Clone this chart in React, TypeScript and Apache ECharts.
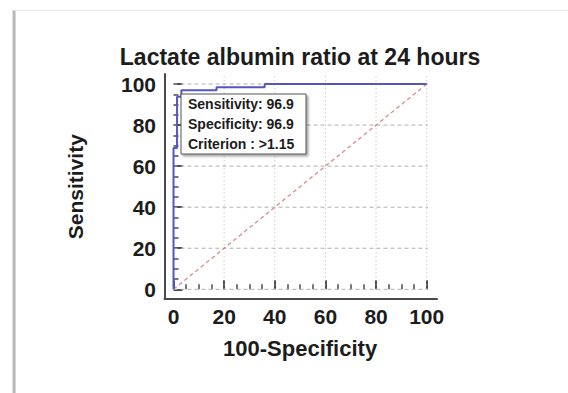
import React, { useEffect, useRef } from "react";
import * as echarts from "echarts";

const TITLE = "Lactate albumin ratio at 24 hours";
const X_NAME = "100-Specificity";
const Y_NAME = "Sensitivity";
const X_TICKS = [0, 20, 40, 60, 80, 100];
const Y_TICKS = [0, 20, 40, 60, 80, 100];
const X_EXT = 104;
const Y_EXT = 104.9;
const ROC_FPR = [0, 0, 1.4, 1.4, 3.1, 3.1, 17, 17, 36, 36, 100];
const ROC_SENS = [0, 68.8, 68.8, 93.8, 93.8, 96.9, 96.9, 98.4, 98.4, 100, 100];
const REF_X = [0, 100];
const REF_Y = [0, 100];
const BOX_LINES = ["Sensitivity: 96.9", "Specificity: 96.9", "Criterion : >1.15"];

const FONT = "'Liberation Sans', Arial, Helvetica, sans-serif";
const AXIS_COLOR = "#4a4a4a";
const TEXT_COLOR = "#1c1c1c";

export default function App() {
  const ref = useRef<HTMLDivElement>(null);
  useEffect(() => {
    if (!ref.current) return;
    const chart = echarts.init(ref.current, undefined, { renderer: "svg" });

    const gridSeries: any[] = [];
    Y_TICKS.forEach((v) => {
      gridSeries.push({
        type: "line",
        xAxisIndex: 0,
        yAxisIndex: 0,
        data: [[0, v], [X_EXT, v]],
        symbol: "none",
        silent: true,
        clip: false,
        z: 1,
        lineStyle: { color: "#b0b0b0", width: 1, type: [4, 3] },
      });
    });
    X_TICKS.filter((v) => v > 0).forEach((v) => {
      gridSeries.push({
        type: "line",
        xAxisIndex: 0,
        yAxisIndex: 0,
        data: [[v, 0], [v, Y_EXT]],
        symbol: "none",
        silent: true,
        clip: false,
        z: 1,
        lineStyle: { color: "#b0b0b0", width: 1, type: [1, 3] },
      });
    });

    const boxX = 181;
    const boxY = 94;
    const lineGap = 20;

    chart.setOption({
      animation: false,
      backgroundColor: "#ffffff",
      grid: [
        { left: 173.5, top: 84, width: 253.2, height: 205.3, containLabel: false },
        { left: 164.5, top: 74, right: 131, bottom: 94.5, containLabel: false },
      ],
      xAxis: [
        {
          gridIndex: 0,
          type: "value",
          min: 0,
          max: 100,
          interval: 20,
          position: "bottom",
          offset: 9,
          axisLine: { show: false },
          axisTick: { show: true, inside: true, length: 9, lineStyle: { color: AXIS_COLOR, width: 2 } },
          minorTick: { show: true, splitNumber: 4, length: 5, lineStyle: { color: AXIS_COLOR, width: 1.5 } },
          splitLine: { show: false },
          axisLabel: { margin: 8, fontSize: 21, fontWeight: "bold", color: TEXT_COLOR, fontFamily: FONT },
          name: X_NAME,
          nameLocation: "middle",
          nameGap: 39,
          nameTextStyle: { fontSize: 22, fontWeight: "bold", color: TEXT_COLOR, fontFamily: FONT },
        },
        {
          gridIndex: 1,
          type: "value",
          min: 0,
          max: 1,
          axisLine: { show: true, lineStyle: { color: AXIS_COLOR, width: 2 } },
          axisTick: { show: false },
          axisLabel: { show: false },
          splitLine: { show: false },
        },
      ],
      yAxis: [
        {
          gridIndex: 0,
          type: "value",
          min: 0,
          max: 100,
          interval: 20,
          position: "left",
          offset: 8.5,
          axisLine: { show: false },
          axisTick: { show: true, inside: true, length: 9, lineStyle: { color: AXIS_COLOR, width: 2 } },
          minorTick: { show: true, splitNumber: 4, length: 5, lineStyle: { color: AXIS_COLOR, width: 1.5 } },
          splitLine: { show: false },
          axisLabel: { margin: 9, fontSize: 21, fontWeight: "bold", color: TEXT_COLOR, fontFamily: FONT },
          name: Y_NAME,
          nameLocation: "middle",
          nameGap: 79,
          nameRotate: 90,
          nameTextStyle: { fontSize: 21, fontWeight: "bold", color: TEXT_COLOR, fontFamily: FONT },
        },
        {
          gridIndex: 1,
          type: "value",
          min: 0,
          max: 1,
          axisLine: { show: true, lineStyle: { color: AXIS_COLOR, width: 2 } },
          axisTick: { show: false },
          axisLabel: { show: false },
          splitLine: { show: false },
        },
      ],
      series: [
        ...gridSeries,
        {
          type: "line",
          xAxisIndex: 0,
          yAxisIndex: 0,
          data: REF_X.map((x, i) => [x, REF_Y[i]]),
          symbol: "none",
          silent: true,
          z: 2,
          lineStyle: { color: "#d98c8c", width: 1.3, type: [4, 3] },
        },
        {
          type: "line",
          xAxisIndex: 0,
          yAxisIndex: 0,
          data: ROC_FPR.map((x, i) => [x, ROC_SENS[i]]),
          symbol: "none",
          clip: false,
          z: 3,
          lineStyle: { color: "#5656c0", width: 2 },
        },
      ],
      graphic: [
        {
          type: "rect",
          shape: { x: 12, y: 10, width: 4, height: 383 },
          style: {
            fill: new echarts.graphic.LinearGradient(0, 0, 1, 0, [
              { offset: 0, color: "#f2f2f2" },
              { offset: 0.5, color: "#a9a9a9" },
              { offset: 1, color: "#e4e4e4" },
            ]),
          },
          silent: true,
        },
        {
          type: "line",
          shape: { x1: 14, y1: 10.5, x2: 568, y2: 10.5 },
          style: { stroke: "#e4e4e4", lineWidth: 1 },
          silent: true,
        },
        {
          type: "text",
          x: 300,
          y: 57,
          style: {
            text: TITLE,
            fontSize: 23,
            fontWeight: "bold",
            fontFamily: FONT,
            fill: TEXT_COLOR,
            align: "center",
            verticalAlign: "middle",
          },
        },
        {
          type: "rect",
          z: 10,
          shape: { x: boxX, y: boxY, width: 125, height: 60 },
          style: {
            fill: "#ffffff",
            stroke: "#555555",
            lineWidth: 1,
            shadowColor: "rgba(0,0,0,0.35)",
            shadowOffsetX: 2,
            shadowOffsetY: 2,
            shadowBlur: 2,
          },
        },
        ...BOX_LINES.map((t, i) => ({
          type: "text",
          z: 11,
          x: boxX + 7,
          y: boxY + 10 + i * lineGap,
          style: {
            text: t,
            fontSize: 14,
            fontWeight: "bold",
            fontFamily: FONT,
            fill: TEXT_COLOR,
            align: "left",
            verticalAlign: "middle",
          },
        })),
      ],
    });
    return () => chart.dispose();
  }, []);
  return (
    <div
      ref={ref}
      style={{ position: "fixed", left: 0, top: 0, width: 568, height: 393 }}
    />
  );
}
